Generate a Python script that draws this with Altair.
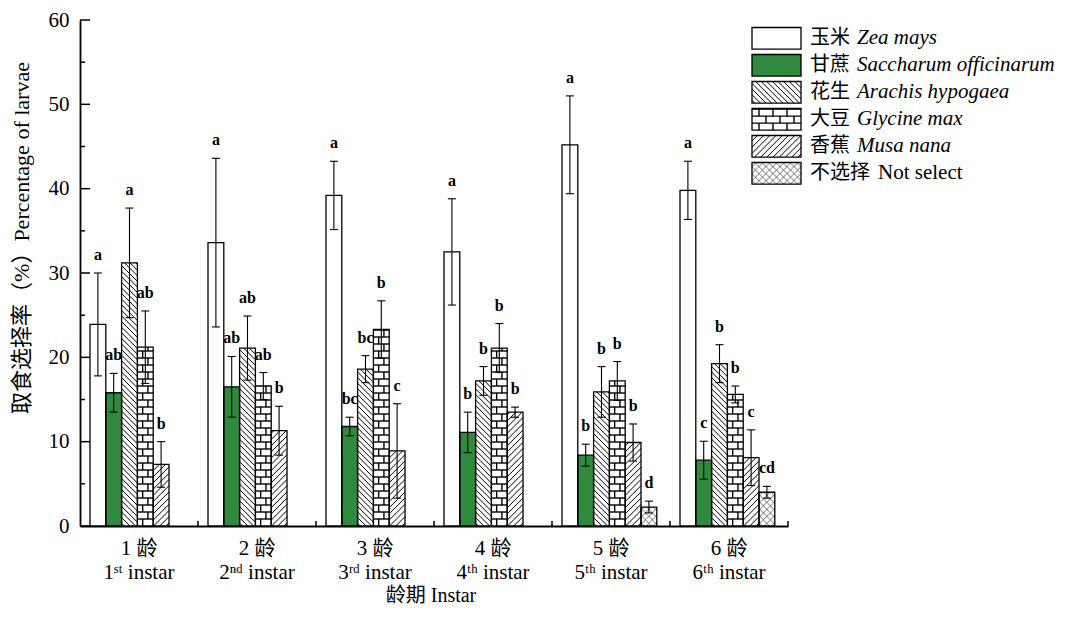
import altair as alt
import numpy as np
import pandas as pd

# ---------------- data ----------------
instar_cn = ["1 龄", "2 龄", "3 龄", "4 龄", "5 龄", "6 龄"]
instar_en = ["1ˢᵗ instar", "2ⁿᵈ instar", "3ʳᵈ instar", "4ᵗʰ instar", "5ᵗʰ instar", "6ᵗʰ instar"]
species_cn = ["玉米", "甘蔗", "花生", "大豆", "香蕉", "不选择"]
species_en = ["Zea mays", "Saccharum officinarum", "Arachis hypogaea", "Glycine max", "Musa nana", "Not select"]

zea_mays = [23.9, 33.6, 39.2, 32.5, 45.2, 39.8]
zea_mays_err = [6.1, 10.0, 4.05, 6.3, 5.8, 3.45]
saccharum = [15.8, 16.5, 11.8, 11.1, 8.4, 7.8]
saccharum_err = [2.3, 3.6, 1.1, 2.4, 1.3, 2.25]
arachis = [31.2, 21.1, 18.6, 17.2, 15.9, 19.25]
arachis_err = [6.5, 3.8, 1.6, 1.7, 3.0, 2.25]
glycine = [21.2, 16.6, 23.3, 21.1, 17.2, 15.6]
glycine_err = [4.3, 1.6, 3.4, 2.9, 2.3, 1.0]
musa = [7.3, 11.3, 8.9, 13.5, 9.9, 8.1]
musa_err = [2.7, 2.9, 5.6, 0.6, 2.2, 3.3]
not_select = [0, 0, 0, 0, 2.25, 4.0]
not_select_err = [0, 0, 0, 0, 0.7, 0.7]

zea_mays_sig = ["a", "a", "a", "a", "a", "a"]
saccharum_sig = ["ab", "ab", "bc", "b", "b", "c"]
arachis_sig = ["a", "ab", "bc", "b", "b", "b"]
glycine_sig = ["ab", "ab", "b", "b", "b", "b"]
musa_sig = ["b", "b", "c", "b", "b", "c"]
not_select_sig = ["", "", "", "", "d", "cd"]

y_ticks = [0, 10, 20, 30, 40, 50, 60]
y_title = "取食选择率（%）Percentage of larvae"
x_title = "龄期 Instar"

# ---------------- layout / style ----------------
W, H = 708, 506
X_MAX, Y_MAX = 6, 60
PX, PY = W / X_MAX, H / Y_MAX
BAR_OFF = 10 / PX
BAR_PX = 15.8
BAR_W = BAR_PX / PX
SERIF = "Liberation Serif, Noto Sans CJK SC"
GREEN = "#2f8a3d"

means = [zea_mays, saccharum, arachis, glycine, musa, not_select]
errs = [zea_mays_err, saccharum_err, arachis_err, glycine_err, musa_err, not_select_err]
sigs = [zea_mays_sig, saccharum_sig, arachis_sig, glycine_sig, musa_sig, not_select_sig]
fills = ["white", GREEN, "white", "white", "white", "white"]
patterns = [None, None, "back", "brick", "fwd", "cross"]
pattern_width = {"back": 1.0, "fwd": 1.0, "brick": 1.4, "cross": 0.8}
pattern_color = {"back": "black", "fwd": "black", "brick": "black", "cross": "#555555"}


def pattern_segments(kind, w, h, brick):
    """Hatch segments in local pixel coords (x right, y up) clipped to w x h."""
    segs = []
    if kind in ("back", "cross"):
        s = 5.6 if kind == "back" else 7.0
        c = s / 2
        while c < w + h:
            xa, xb = max(0.0, c - h), min(w, c)
            if xb - xa > 0.3:
                segs.append((xa, c - xa, xb, c - xb))
            c += s
    if kind in ("fwd", "cross"):
        s = 6.2 if kind == "fwd" else 7.0
        c = w - s / 2
        while c > -h:
            xa, xb = max(0.0, c), min(w, c + h)
            if xb - xa > 0.3:
                segs.append((xa, xa - c, xb, xb - c))
            c -= s
    if kind == "brick":
        rh = 7.0
        nrows = int(np.ceil(h / rh))
        for r in range(nrows):
            y0, y1 = r * rh, min(h, (r + 1) * rh)
            if r > 0:
                segs.append((0.0, y0, w, y0))
            xv = brick / 2 + (r % 2) * brick / 2
            while xv < w - 0.5:
                segs.append((xv, y0, xv, y1))
                xv += brick
    return segs


bar_rows, hatch_rows = [], []
for g in range(6):
    for k in range(6):
        v = means[k][g]
        if v <= 0:
            continue
        x0 = g + BAR_OFF + k * BAR_W
        x1 = x0 + BAR_W
        xc = (x0 + x1) / 2
        e = errs[k][g]
        bar_rows.append(dict(x0=x0, x1=x1, xc=xc, c0=xc - 4 / PX, c1=xc + 4 / PX,
                             y0=0.0, v=v, lo=v - e, hi=v + e, sig=sigs[k][g],
                             fill=fills[k]))
        if patterns[k]:
            for (ax, ay, bx, by) in pattern_segments(patterns[k], BAR_PX, v * PY, BAR_PX * 2 / 3):
                hatch_rows.append(dict(x=x0 + ax / PX, x2=x0 + bx / PX, y=ay / PY, y2=by / PY,
                                       col=pattern_color[patterns[k]],
                                       sw=pattern_width[patterns[k]]))
bars = pd.DataFrame(bar_rows)

# legend (drawn with marks so the patterns show)
LEG_LEFT, LEG_W, LEG_H, LEG_TOP, LEG_STEP = 672, 49, 21.6, 7.5, 27.0
leg_rows = []
for r in range(6):
    top = LEG_TOP + LEG_STEP * r
    bot = top + LEG_H
    leg_rows.append(dict(x0=LEG_LEFT / PX, x1=(LEG_LEFT + LEG_W) / PX,
                         y0=(H - bot) / PY, y1=(H - top) / PY,
                         ty=(H - top - LEG_H / 2) / PY,
                         tx=(LEG_LEFT + 58) / PX,
                         lx=(LEG_LEFT + 58 + 21 * len(species_cn[r]) + 5) / PX,
                         cn=species_cn[r], en=species_en[r], fill=fills[r],
                         italic=(r < 5)))
    if patterns[r]:
        for (ax, ay, bx, by) in pattern_segments(patterns[r], LEG_W, LEG_H, 14):
            hatch_rows.append(dict(x=(LEG_LEFT + ax) / PX, x2=(LEG_LEFT + bx) / PX,
                                   y=(H - bot + ay) / PY, y2=(H - bot + by) / PY,
                                   col=pattern_color[patterns[r]],
                                   sw=pattern_width[patterns[r]]))
legend = pd.DataFrame(leg_rows)
hatch = pd.DataFrame(hatch_rows)

xs = alt.Scale(domain=[0, X_MAX], nice=False, zero=False)
ys = alt.Scale(domain=[0, Y_MAX], nice=False, zero=False)
x_axis = alt.Axis(labels=False, ticks=False, tickSize=0, grid=False, domainColor="black",
                  domainWidth=1.8, title=None)
y_axis = alt.Axis(values=y_ticks, ticks=False, tickSize=0, grid=False,
                  labelFont=SERIF, labelFontSize=21, labelColor="black",
                  labelPadding=11, labelFlush=False, domainColor="black",
                  domainWidth=1.8, title=None)


def X(f):
    return alt.X(f"{f}:Q", scale=xs, axis=x_axis, title=None)


def Y(f):
    return alt.Y(f"{f}:Q", scale=ys, axis=y_axis, title=None)


# --- bars ---
bar_fill = alt.Chart(bars).mark_rect(strokeWidth=0).encode(
    x=X("x0"), x2="x1:Q", y=Y("y0"), y2="v:Q", color=alt.Color("fill:N", scale=None))
leg_fill = alt.Chart(legend).mark_rect(strokeWidth=0).encode(
    x=X("x0"), x2="x1:Q", y=Y("y0"), y2="y1:Q", color=alt.Color("fill:N", scale=None))

hatch_lines = alt.Chart(hatch).mark_rule().encode(
    x=X("x"), x2="x2:Q", y=Y("y"), y2="y2:Q",
    color=alt.Color("col:N", scale=None),
    strokeWidth=alt.StrokeWidth("sw:Q", scale=None))

bar_outline = alt.Chart(bars).mark_rect(fillOpacity=0, stroke="black", strokeWidth=1.3).encode(
    x=X("x0"), x2="x1:Q", y=Y("y0"), y2="v:Q")
leg_outline = alt.Chart(legend).mark_rect(fillOpacity=0, stroke="black", strokeWidth=1.3).encode(
    x=X("x0"), x2="x1:Q", y=Y("y0"), y2="y1:Q")

err_line = alt.Chart(bars).mark_rule(color="black", strokeWidth=1.1).encode(
    x=X("xc"), y=Y("lo"), y2="hi:Q")
cap_hi = alt.Chart(bars).mark_rule(color="black", strokeWidth=1.1).encode(
    x=X("c0"), x2="c1:Q", y=Y("hi"))
cap_lo = alt.Chart(bars).mark_rule(color="black", strokeWidth=1.1).encode(
    x=X("c0"), x2="c1:Q", y=Y("lo"))

sig_text = alt.Chart(bars).mark_text(font="Liberation Serif", fontSize=16, fontWeight="bold",
                                     dy=-18, baseline="middle", align="center",
                                     color="black").encode(
    x=X("xc"), y=Y("hi"), text="sig:N")

# --- inward ticks ---
ymaj = pd.DataFrame({"v": y_ticks})
ymin = pd.DataFrame({"v": [t + 5 for t in y_ticks[:-1]]})
ytick_major = alt.Chart(ymaj).mark_rule(color="black", strokeWidth=1.5).encode(
    x=alt.value(0), x2=alt.value(10), y=Y("v"))
ytick_minor = alt.Chart(ymin).mark_rule(color="black", strokeWidth=1.5).encode(
    x=alt.value(0), x2=alt.value(5), y=Y("v"))
xt = pd.DataFrame({"g": list(range(1, 7))})
xtick = alt.Chart(xt).mark_rule(color="black", strokeWidth=1.5).encode(
    x=X("g"), y=alt.value(H), y2=alt.value(H - 5))

# --- category labels ---
cats = pd.DataFrame({"c": [i + 0.5 for i in range(6)], "cn": instar_cn, "en": instar_en})
cat_cn = alt.Chart(cats).mark_text(font=SERIF, fontSize=21, baseline="middle",
                                   color="black").encode(
    x=X("c"), y=alt.value(H + 23), text="cn:N")
cat_en = alt.Chart(cats).mark_text(font=SERIF, fontSize=21, baseline="middle",
                                   color="black").encode(
    x=X("c"), y=alt.value(H + 47), text="en:N")

titles = pd.DataFrame({"t": [x_title]})
xtitle = alt.Chart(titles).mark_text(font=SERIF, fontSize=20, baseline="middle",
                                     color="black").encode(
    x=alt.value(351), y=alt.value(H + 70), text="t:N")
ytitles = pd.DataFrame({"t": [y_title]})
ytitle = alt.Chart(ytitles).mark_text(font=SERIF, fontSize=22, baseline="middle", angle=270,
                                      color="black").encode(
    x=alt.value(-58), y=alt.value(218), text="t:N")

# --- legend text ---
leg_cn = alt.Chart(legend).mark_text(font="Noto Sans CJK SC", fontSize=20, align="left",
                                     baseline="middle", color="black").encode(
    x=X("tx"), y=Y("ty"), text="cn:N")
leg_en_it = alt.Chart(legend).transform_filter("datum.italic").mark_text(
    font="Liberation Serif", fontSize=21, fontStyle="italic", align="left",
    baseline="middle", color="black").encode(x=X("lx"), y=Y("ty"), text="en:N")
leg_en_rm = alt.Chart(legend).transform_filter("!datum.italic").mark_text(
    font="Liberation Serif", fontSize=21, align="left",
    baseline="middle", color="black").encode(x=X("lx"), y=Y("ty"), text="en:N")

chart = alt.layer(
    bar_fill, leg_fill, hatch_lines, bar_outline, leg_outline,
    err_line, cap_hi, cap_lo, sig_text,
    ytick_major, ytick_minor, xtick, cat_cn, cat_en, xtitle, ytitle,
    leg_cn, leg_en_it, leg_en_rm,
).properties(
    width=W, height=H,
    padding={"left": 72, "top": 12, "right": 276, "bottom": 82},
    autosize=alt.AutoSizeParams(type="none"),
    background="white",
).configure_view(stroke=None)

chart.save("out.html", embed_options={"renderer": "svg", "actions": False})
